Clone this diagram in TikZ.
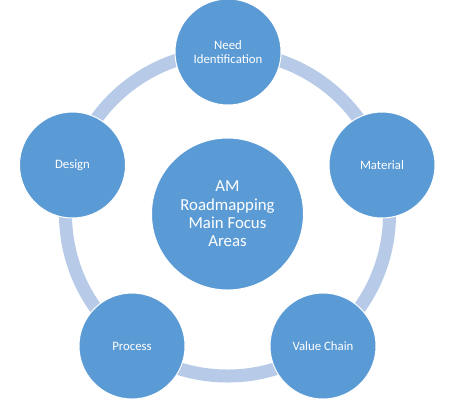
\documentclass[tikz,border=0pt]{standalone}
\usepackage{xcolor}
\usepackage{fontspec}
\setmainfont{Carlito}
\definecolor{areacolor}{HTML}{5B9BD5}
\definecolor{ringcolor}{HTML}{B7CBE8}
\tikzset{
  area/.style={draw=white, line width=1bp, circle, fill=areacolor, text=white, align=center, inner sep=0pt, minimum size=106bp, font=\fontsize{12.8bp}{14.5bp}\selectfont},
  hub/.style={area, minimum size=152bp, font=\fontsize{16.8bp}{18.4bp}\selectfont},
  ring/.style={draw=ringcolor, line width=13bp}
}
\begin{document}
\begin{tikzpicture}[x=1bp, y=-1bp]%
\useasboundingbox (0,0) rectangle (450,402);%
\coordinate (ringctr) at (227.5, 214);%
\draw[ring] (ringctr) circle (162bp);%
\node[hub] (focus) at (227.5, 214) {AM\\Roadmapping\\Main Focus\\Areas};%
\node[area] (need) at (228, 52) {Need\\Identification};%
\node[area] (material) at (382, 165) {Material};%
\node[area] (valuechain) at (323, 346) {Value Chain};%
\node[area] (process) at (132, 346) {Process};%
\node[area] (design) at (72.5, 165) {Design};%
\end{tikzpicture}
\end{document}
